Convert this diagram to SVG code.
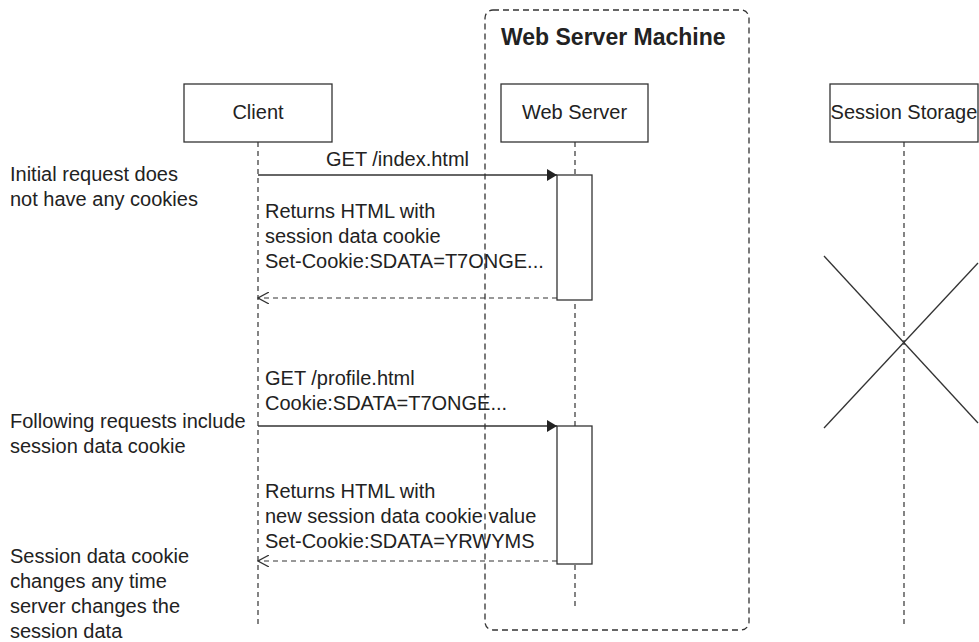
<svg xmlns="http://www.w3.org/2000/svg" width="979" height="642" viewBox="0 0 979 642">
<defs>
<style>
text{font-family:"Liberation Sans",Arial,sans-serif;font-size:20px;fill:#222}
.title{font-weight:bold;font-size:23px}
.box{fill:#fff;stroke:#333;stroke-width:1.3}
.life{stroke:#333;stroke-width:1.2;stroke-dasharray:5 4;fill:none}
.msg{stroke:#333;stroke-width:1.3;fill:none}
.ret{stroke:#333;stroke-width:1.2;stroke-dasharray:5 4;fill:none}
.frame{stroke:#333;stroke-width:1.3;stroke-dasharray:6 4;fill:none}
.x{stroke:#333;stroke-width:1.3}
</style>
<marker id="filled" markerWidth="10" markerHeight="12" refX="10" refY="6" orient="auto" markerUnits="userSpaceOnUse">
<path d="M0,0 L10,6 L0,12 Z" fill="#222"/>
</marker>
<marker id="open" markerWidth="12" markerHeight="12" refX="11" refY="6" orient="auto" markerUnits="userSpaceOnUse">
<path d="M0,0 L11,6 L0,12" fill="none" stroke="#333" stroke-width="1.2"/>
</marker>
</defs>
<rect width="979" height="642" fill="#fff"/>
<g id="web-server-machine">
<rect class="frame" x="485" y="10" width="264" height="620" rx="8"/>
<text class="title" x="501" y="45">Web Server Machine</text>
</g>
<g id="client">
<rect class="box" x="184" y="84" width="148" height="58"/>
<text x="258" y="119" text-anchor="middle">Client</text>
<line class="life" x1="258" y1="142" x2="258" y2="626"/>
</g>
<g id="web-server">
<rect class="box" x="501" y="84" width="147" height="58"/>
<text x="574.5" y="119" text-anchor="middle">Web Server</text>
<line class="life" x1="575" y1="142" x2="575" y2="606"/>
<rect class="box" x="557" y="175" width="35" height="125"/>
<rect class="box" x="557" y="426" width="35" height="138"/>
</g>
<g id="session-storage">
<rect class="box" x="830" y="84" width="148" height="58"/>
<text x="904" y="119" text-anchor="middle">Session Storage</text>
<line class="life" x1="904" y1="142" x2="904" y2="627"/>
<line class="x" x1="824" y1="256" x2="978" y2="423"/>
<line class="x" x1="824" y1="428" x2="978" y2="263"/>
</g>
<g id="notes">
<text x="10" y="181">Initial request does</text>
<text x="10" y="206">not have any cookies</text>
<text x="10" y="428">Following requests include</text>
<text x="10" y="453">session data cookie</text>
<text x="10" y="563">Session data cookie</text>
<text x="10" y="588">changes any time</text>
<text x="10" y="613">server changes the</text>
<text x="10" y="638">session data</text>
</g>
<g id="connectors">
<line class="msg" x1="258" y1="175" x2="557" y2="175" marker-end="url(#filled)"/>
<text x="326" y="166">GET /index.html</text>
<line class="ret" x1="557" y1="298" x2="258" y2="298" marker-end="url(#open)"/>
<text x="265" y="218">Returns HTML with</text>
<text x="265" y="243">session data cookie</text>
<text x="265" y="268">Set-Cookie:SDATA=T7ONGE...</text>
<line class="msg" x1="258" y1="426" x2="557" y2="426" marker-end="url(#filled)"/>
<text x="265" y="385">GET /profile.html</text>
<text x="265" y="410">Cookie:SDATA=T7ONGE...</text>
<line class="ret" x1="557" y1="561" x2="258" y2="561" marker-end="url(#open)"/>
<text x="265" y="498">Returns HTML with</text>
<text x="265" y="523">new session data cookie value</text>
<text x="265" y="548">Set-Cookie:SDATA=YRWYMS</text>
</g>
</svg>
